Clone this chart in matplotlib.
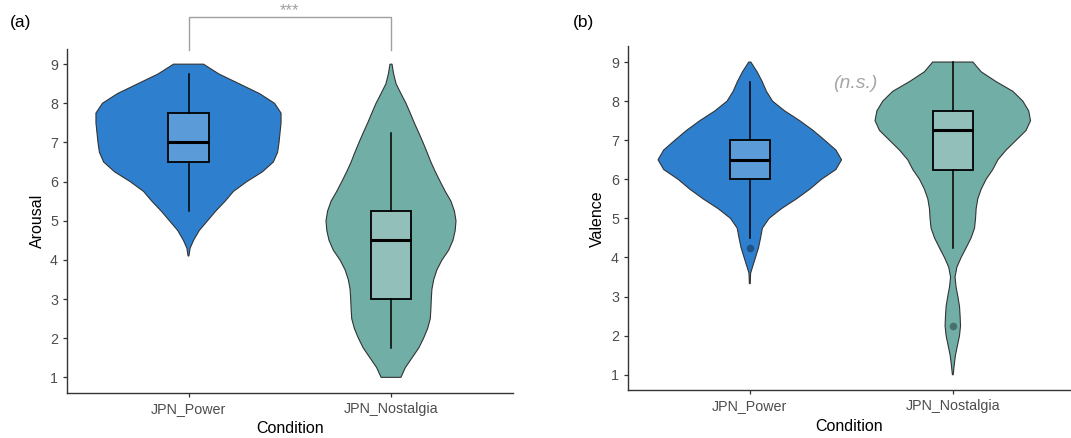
import matplotlib
matplotlib.use('Agg')
import matplotlib.pyplot as plt
import numpy as np

plt.rcParams['font.family'] = ['Liberation Sans', 'DejaVu Sans']

# ===== data =====
conditions = ['JPN_Power', 'JPN_Nostalgia']
y_ticks = [1, 2, 3, 4, 5, 6, 7, 8, 9]

# violin outlines: score levels and half-width (x units) at each level
ar_power_y = [9.0, 8.75, 8.5, 8.25, 8.0, 7.75, 7.5, 7.25, 7.0, 6.75, 6.5, 6.25, 6.0,
              5.75, 5.5, 5.25, 5.0, 4.75, 4.5, 4.3, 4.1]
ar_power_w = [0.074, 0.15, 0.25, 0.35, 0.425, 0.457, 0.457, 0.452, 0.447, 0.44, 0.419,
              0.365, 0.288, 0.222, 0.181, 0.135, 0.094, 0.053, 0.025, 0.008, 0.002]

ar_nost_y = [9.0, 8.75, 8.5, 8.25, 8.0, 7.75, 7.5, 7.25, 7.0, 6.75, 6.5, 6.25, 6.0,
             5.75, 5.5, 5.25, 5.0, 4.75, 4.5, 4.25, 4.0, 3.75, 3.5, 3.25, 3.0, 2.75,
             2.5, 2.25, 2.0, 1.75, 1.5, 1.25, 1.0]
ar_nost_w = [0.005, 0.013, 0.025, 0.049, 0.074, 0.095, 0.115, 0.137, 0.158, 0.178, 0.197,
             0.219, 0.243, 0.268, 0.296, 0.313, 0.321, 0.317, 0.306, 0.285, 0.252, 0.227,
             0.211, 0.202, 0.199, 0.197, 0.194, 0.181, 0.161, 0.137, 0.104, 0.071, 0.049]

va_power_y = [9.0, 8.75, 8.5, 8.25, 8.0, 7.75, 7.5, 7.25, 7.0, 6.75, 6.5, 6.25, 6.0,
              5.75, 5.5, 5.25, 5.0, 4.75, 4.5, 4.25, 4.0, 3.75, 3.6, 3.33]
va_power_w = [0.005, 0.036, 0.061, 0.082, 0.112, 0.172, 0.246, 0.312, 0.369, 0.424, 0.452,
              0.424, 0.353, 0.296, 0.23, 0.156, 0.095, 0.062, 0.053, 0.043, 0.028, 0.013,
              0.004, 0.002]

va_nost_y = ar_nost_y
va_nost_w = [0.099, 0.14, 0.213, 0.296, 0.345, 0.374, 0.383, 0.361, 0.312, 0.263, 0.222,
             0.197, 0.164, 0.14, 0.123, 0.115, 0.112, 0.107, 0.09, 0.066, 0.041, 0.02,
             0.011, 0.016, 0.025, 0.033, 0.036, 0.038, 0.033, 0.023, 0.013, 0.007, 0.002]

# box plot summaries: [whisker low, q1, median, q3, whisker high]
ar_power_box = [5.25, 6.5, 7.0, 7.75, 8.75]
ar_nost_box = [1.75, 3.0, 4.5, 5.25, 7.25]
va_power_box = [4.5, 6.0, 6.5, 7.0, 8.5]
va_nost_box = [4.25, 6.25, 7.25, 7.75, 9.0]
va_power_out = [4.25]
va_nost_out = [2.25]

violin_colors = ['#2E80CE', '#71AEA6']
box_colors = ['#5A9BD8', '#92BFBA']


def draw_violin(ax, pos, ys, ws, color):
    ys = np.asarray(ys)
    ws = np.asarray(ws)
    xs = np.concatenate([pos - ws, (pos + ws)[::-1]])
    yy = np.concatenate([ys, ys[::-1]])
    ax.fill(xs, yy, facecolor=color, edgecolor='#333333', linewidth=0.8, zorder=1)


def draw_boxes(ax, boxes, fliers):
    stats = []
    for b, f in zip(boxes, fliers):
        stats.append(dict(whislo=b[0], q1=b[1], med=b[2], q3=b[3], whishi=b[4], fliers=f))
    bp = ax.bxp(stats, positions=[1, 2], widths=0.2, patch_artist=True, showcaps=False,
                boxprops=dict(edgecolor='black', linewidth=1.3),
                medianprops=dict(color='black', linewidth=2.2),
                whiskerprops=dict(color='black', linewidth=1.1),
                flierprops=dict(marker='o', markerfacecolor='black', markeredgecolor='none',
                                alpha=0.35, markersize=5.5),
                manage_ticks=False, zorder=2)
    for patch, c in zip(bp['boxes'], box_colors):
        patch.set_facecolor(c)


def style_axes(ax, ylabel, right):
    ax.set_xlim(0.4, right)
    ax.set_ylim(0.6, 9.4)
    ax.set_xticks([1, 2])
    ax.set_xticklabels(conditions)
    ax.set_yticks(y_ticks)
    for s in ['top', 'right']:
        ax.spines[s].set_visible(False)
    for s in ['left', 'bottom']:
        ax.spines[s].set_color('#333333')
        ax.spines[s].set_linewidth(1.0)
    ax.tick_params(length=3, width=0.9, color='#333333', labelcolor='#4D4D4D', labelsize=10.3)
    ax.set_ylabel(ylabel, fontsize=11.5, color='black')
    ax.set_xlabel('Condition', fontsize=11.5, color='black')
    ax.xaxis.set_label_coords(0.5, -0.082)


fig = plt.figure(figsize=(10.71, 4.38), dpi=100)
ax1 = fig.add_axes([67 / 1071, (438 - 393.0) / 438, 445.5 / 1071, 344.5 / 438])
ax2 = fig.add_axes([628 / 1071, (438 - 390.4) / 438, 443 / 1071, 344 / 438])

# (a) Arousal
draw_violin(ax1, 1, ar_power_y, ar_power_w, violin_colors[0])
draw_violin(ax1, 2, ar_nost_y, ar_nost_w, violin_colors[1])
draw_boxes(ax1, [ar_power_box, ar_nost_box], [[], []])
style_axes(ax1, 'Arousal', 2.6)
ax1.yaxis.set_label_coords(-0.049, 0.5)

# significance bracket
ax1.plot([1, 1, 2, 2], [9.36, 10.2, 10.2, 9.36], color='#A0A0A0', lw=1.0, clip_on=False)
ax1.text(1.5, 10.38, '***', ha='center', va='center', color='#A0A0A0', fontsize=12)

# (b) Valence
draw_violin(ax2, 1, va_power_y, va_power_w, violin_colors[0])
draw_violin(ax2, 2, va_nost_y, va_nost_w, violin_colors[1])
draw_boxes(ax2, [va_power_box, va_nost_box], [va_power_out, va_nost_out])
style_axes(ax2, 'Valence', 0.4 + 443 / 203)
ax2.yaxis.set_label_coords(-0.052, 0.5)
ax2.text(1.52, 8.44, '(n.s.)', ha='center', va='center', color='#A6A6A6',
         fontsize=14, style='italic')

fig.text(10 / 1071, 1 - 22 / 438, '(a)', fontsize=12.5, va='center', ha='left')
fig.text(573 / 1071, 1 - 22 / 438, '(b)', fontsize=12.5, va='center', ha='left')

fig.savefig('out.png', dpi=100, facecolor='white')
